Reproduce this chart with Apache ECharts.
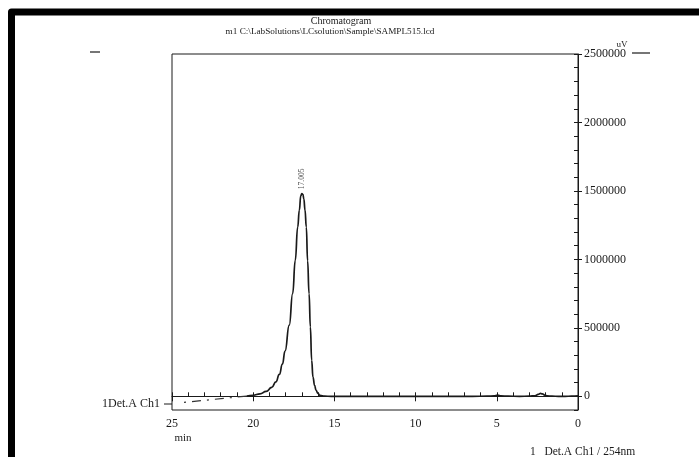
<!DOCTYPE html>
<html>
<head>
<meta charset="utf-8">
<script src="https://cdn.jsdelivr.net/npm/echarts@6/dist/echarts.min.js"></script>
<style>
  html, body { margin: 0; padding: 0; background: #fff; }
  #chart { width: 699px; height: 457px; }
</style>
</head>
<body>
<div id="chart"></div>
<script>
// Header and channel texts
const titleText = 'Chromatogram';
const fileText = 'm1 C:\\LabSolutions\\LCsolution\\Sample\\SAMPL515.lcd';
const channelName = '1Det.A Ch1';
const channelLegend = '1   Det.A Ch1 / 254nm';
const signalUnit = 'uV';
const timeUnit = 'min';

// Axis ticks
const timeMajorTicks = [0, 5, 10, 15, 20, 25];
const signalMajorTicks = [0, 500000, 1000000, 1500000, 2000000, 2500000];

// Detector trace (retention time in min, signal in uV)
const traceTime = [0, 0.4, 0.8, 1.2, 1.6, 1.9, 2.05, 2.2, 2.3, 2.45, 2.65, 3.0, 3.6, 4.3, 4.75, 4.95, 5.15, 5.6,
  6.5, 7.5, 8.5, 9.5, 10.5, 11.5, 12.5, 13.5, 14.5, 15.2, 15.6, 15.89, 16.02, 16.13, 16.22, 16.32, 16.40,
  16.48, 16.56, 16.65, 16.73, 16.81, 16.88, 16.94, 17.005, 17.07, 17.16, 17.26, 17.41, 17.57, 17.78, 18.04,
  18.2, 18.39, 18.6, 18.86, 19.2, 19.58, 20.0, 20.4];
const traceSignal = [3000, 1000, 0, 0, 1000, 3000, 9000, 18000, 21000, 14000, 4000, 1000, 0, 1000, 3000, 9000, 3000, 1000,
  0, -1000, -1000, -1000, -1000, -1000, -1000, -1000, 0, 0, 1000, 7000, 22000, 44000, 80000, 141000, 263000,
  507000, 750000, 990000, 1236000, 1360000, 1440000, 1475000, 1480000, 1465000, 1358000, 1236000, 993000, 750000, 520000, 330000,
  235000, 160000, 105000, 65000, 36000, 18000, 7000, 2000];

// Extrapolated tail drawn dash-dot toward the channel marker
const tailTime = [20.4, 24.4];
const tailSignal = [2000, -46000];

const FONT = '"Liberation Serif", "DejaVu Serif", serif';
const INK = '#1a1a1a';

const traceData = traceTime.map((t, i) => [t, traceSignal[i]]);
const apexIndex = traceSignal.indexOf(Math.max(...traceSignal));
const apexData = [[traceTime[apexIndex], traceSignal[apexIndex]]];
const tailData = tailTime.map((t, i) => [t, tailSignal[i]]);

const chart = echarts.init(document.getElementById('chart'), null, { renderer: 'canvas' });

const gridBox = { left: 172, right: 121, top: 54, bottom: 47 };

chart.setOption({
  animation: false,
  backgroundColor: '#fff',
  grid: Object.assign({ show: true, borderColor: INK, borderWidth: 1, backgroundColor: 'transparent', containLabel: false }, gridBox),
  xAxis: [
    {
      type: 'value', min: 0, max: 25, interval: 5, inverse: true, position: 'bottom',
      axisLine: { show: true, lineStyle: { color: INK, width: 1 } },
      axisTick: { show: true, inside: false, length: 5, lineStyle: { color: INK } },
      axisLabel: { show: true, margin: 8, fontFamily: FONT, fontSize: 12, color: INK },
      splitLine: { show: false }
    },
    {
      type: 'value', min: 0, max: 25, interval: 1, inverse: true, position: 'bottom',
      axisLine: { show: false },
      axisTick: { show: true, inside: true, length: 4, lineStyle: { color: INK } },
      axisLabel: { show: false },
      splitLine: { show: false }
    }
  ],
  yAxis: [
    {
      type: 'value', min: -100000, max: 2500000, interval: 100000, position: 'right',
      axisLine: { show: true, lineStyle: { color: INK, width: 1 } },
      axisTick: { show: true, inside: false, length: 4, customValues: signalMajorTicks, lineStyle: { color: INK } },
      axisLabel: { show: true, customValues: signalMajorTicks, margin: 6, formatter: v => String(v), fontFamily: FONT, fontSize: 12, color: INK },
      splitLine: { show: false }
    },
    {
      type: 'value', min: -100000, max: 2500000, interval: 100000, position: 'right',
      axisLine: { show: false },
      axisTick: { show: true, inside: true, length: 4, lineStyle: { color: INK } },
      axisLabel: { show: false },
      splitLine: { show: false }
    }
  ],
  series: [
    {
      name: channelName, type: 'line', xAxisIndex: 0, yAxisIndex: 0,
      data: traceData, symbol: 'none', showSymbol: false,
      smooth: 0.5, smoothMonotone: 'x',
      lineStyle: { color: INK, width: 1.7 }
    },
    {
      name: channelName + ' tail', type: 'line', xAxisIndex: 0, yAxisIndex: 0,
      data: tailData, symbol: 'none', showSymbol: false,
      lineStyle: { color: '#333', width: 1.2, type: [9, 6, 2, 6] }
    },
    {
      // retention time label above the peak apex
      name: 'peak', type: 'scatter', xAxisIndex: 0, yAxisIndex: 0,
      data: apexData, symbolSize: 1, itemStyle: { color: 'rgba(0,0,0,0)' },
      label: {
        show: true,
        formatter: p => p.value[0].toFixed(3),
        position: 'top',
        rotate: 90,
        align: 'left',
        verticalAlign: 'middle',
        distance: 4,
        offset: [-4, 0],
        fontFamily: FONT,
        fontSize: 7.5,
        color: INK
      },
      labelLayout: { hideOverlap: false }
    }
  ],
  graphic: [
    // heavy page frame
    { type: 'polyline', silent: true, shape: { points: [[11.5, 470], [11.5, 12], [710, 12]] },
      style: { stroke: '#000', lineWidth: 7, lineJoin: 'round', fill: null } },
    { type: 'text', silent: true, x: 341, y: 21,
      style: { text: titleText, align: 'center', verticalAlign: 'middle', font: '10px ' + FONT, fill: INK } },
    { type: 'text', silent: true, x: 330, y: 32,
      style: { text: fileText, align: 'center', verticalAlign: 'middle', font: '9.2px ' + FONT, fill: INK } },
    { type: 'text', silent: true, x: 622, y: 45,
      style: { text: signalUnit, align: 'center', verticalAlign: 'middle', font: '9px ' + FONT, fill: INK } },
    { type: 'line', silent: true, shape: { x1: 632, y1: 53, x2: 650, y2: 53 }, style: { stroke: INK, lineWidth: 1.2 } },
    { type: 'line', silent: true, shape: { x1: 90, y1: 52, x2: 100, y2: 52 }, style: { stroke: INK, lineWidth: 1.2 } },
    { type: 'text', silent: true, x: 183, y: 438,
      style: { text: timeUnit, align: 'center', verticalAlign: 'middle', font: '11px ' + FONT, fill: INK } },
    { type: 'text', silent: true, x: 160, y: 404,
      style: { text: channelName, align: 'right', verticalAlign: 'middle', font: '12px ' + FONT, fill: INK } },
    { type: 'line', silent: true, shape: { x1: 164, y1: 404, x2: 172, y2: 404 }, style: { stroke: INK, lineWidth: 1 } },
    { type: 'text', silent: true, x: 530, y: 452,
      style: { text: channelLegend, align: 'left', verticalAlign: 'middle', font: '11.5px ' + FONT, fill: INK } }
  ]
});
</script>
</body>
</html>
